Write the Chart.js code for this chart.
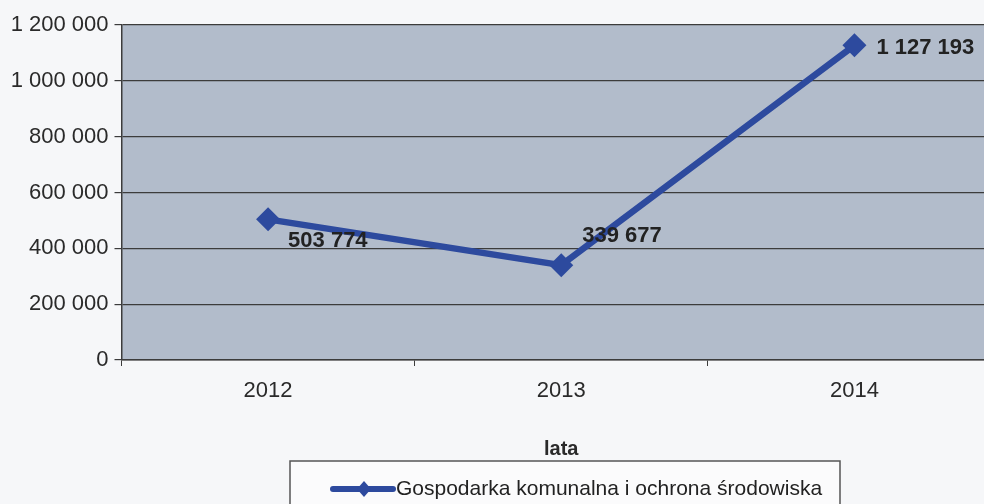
<!DOCTYPE html>
<html lang="pl">
<head>
  <meta charset="UTF-8">
  <title>Gospodarka komunalna i ochrona środowiska</title>
  <style>
    html, body { margin: 0; padding: 0; background: #f6f7f9; overflow: hidden; }
    #wrap { width: 1013px; height: 504px; }
  </style>
</head>
<body>
  <div id="wrap">
    <canvas id="myChart" width="1013" height="504"></canvas>
  </div>

  <script src="https://cdn.jsdelivr.net/npm/chart.js"></script>
  <script>
    // data
    const years = ['2012', '2013', '2014'];
    const values = [503774, 339677, 1127193];
    const seriesName = 'Gospodarka komunalna i ochrona środowiska';
    const axisTitle = 'lata';
    const yTicks = [0, 200000, 400000, 600000, 800000, 1000000, 1200000];

    const lineColor = '#2d4a9e';
    const gridColor = '#3c3c3c';
    const fontFamily = '"Liberation Sans", Arial, sans-serif';

    function fmt(v) {
      return String(v).replace(/\B(?=(\d{3})+(?!\d))/g, ' ');
    }

    // gray plot area
    const plotBg = {
      id: 'plotBg',
      beforeDraw(chart) {
        const { ctx, chartArea: a } = chart;
        ctx.save();
        ctx.fillStyle = '#b2bccb';
        ctx.fillRect(a.left, a.top, a.right - a.left, a.bottom - a.top);
        ctx.restore();
      }
    };

    // value labels next to the points
    const valueLabels = {
      id: 'valueLabels',
      afterDatasetsDraw(chart) {
        const { ctx } = chart;
        const offsets = [[20, 22], [21, -29], [22, 3]];
        const meta = chart.getDatasetMeta(0);
        ctx.save();
        ctx.font = 'bold 22px ' + fontFamily;
        ctx.fillStyle = '#222';
        ctx.textAlign = 'left';
        ctx.textBaseline = 'middle';
        meta.data.forEach((pt, i) => {
          ctx.fillText(fmt(values[i]), pt.x + offsets[i][0], pt.y + offsets[i][1]);
        });
        ctx.restore();
      }
    };

    // boxed legend below the axis title
    const boxLegend = {
      id: 'boxLegend',
      afterDraw(chart) {
        const { ctx } = chart;
        const ds = chart.data.datasets[0];
        const left = 290, right = 840, top = 461, bottom = 510;
        const cy = 489;
        ctx.save();
        ctx.fillStyle = '#fbfbfc';
        ctx.fillRect(left, top, right - left, bottom - top);
        ctx.strokeStyle = '#555';
        ctx.lineWidth = 1.5;
        ctx.strokeRect(left, top, right - left, bottom - top);
        // sample line with diamond
        ctx.strokeStyle = ds.borderColor;
        ctx.lineWidth = 6;
        ctx.lineCap = 'round';
        ctx.beginPath();
        ctx.moveTo(333, cy);
        ctx.lineTo(393, cy);
        ctx.stroke();
        ctx.fillStyle = ds.borderColor;
        ctx.beginPath();
        ctx.moveTo(364, cy - 8);
        ctx.lineTo(371, cy);
        ctx.lineTo(364, cy + 8);
        ctx.lineTo(357, cy);
        ctx.closePath();
        ctx.fill();
        ctx.fillStyle = '#222';
        ctx.font = '21px ' + fontFamily;
        ctx.textAlign = 'left';
        ctx.textBaseline = 'middle';
        ctx.fillText(ds.label, 396, cy);
        ctx.restore();
      }
    };

    const ctx = document.getElementById('myChart');
    const myChart = new Chart(ctx, {
      type: 'line',
      data: {
        labels: years,
        datasets: [{
          label: seriesName,
          data: values,
          borderColor: lineColor,
          backgroundColor: lineColor,
          borderWidth: 6.5,
          pointStyle: 'rectRot',
          pointRadius: 12,
          pointBorderWidth: 0,
          tension: 0,
          fill: false
        }]
      },
      options: {
        responsive: false,
        animation: false,
        layout: { padding: { top: 25, right: 4, left: 0, bottom: 0 } },
        plugins: {
          legend: { display: false },
          tooltip: { enabled: false }
        },
        scales: {
          x: {
            offset: true,
            grid: {
              offset: true,
              drawOnChartArea: false,
              drawTicks: true,
              tickLength: 6,
              color: gridColor
            },
            border: { display: true, color: gridColor, width: 1.5 },
            ticks: {
              color: '#2a2a2a',
              padding: 12,
              font: { family: fontFamily, size: 22 }
            },
            title: {
              display: true,
              text: axisTitle,
              color: '#2a2a2a',
              font: { family: fontFamily, size: 20, weight: 'bold' },
              padding: { top: 0, bottom: 43 }
            },
            afterFit(s) { s.height = 144; }
          },
          y: {
            min: 0,
            max: 1200000,
            afterBuildTicks(s) { s.ticks = yTicks.map(v => ({ value: v })); },
            grid: {
              color: gridColor,
              lineWidth: 1.2,
              tickLength: 7
            },
            border: { display: true, color: gridColor, width: 1.5 },
            ticks: {
              color: '#2a2a2a',
              padding: 6,
              font: { family: fontFamily, size: 22 },
              callback: (v) => fmt(v)
            },
            afterFit(s) { s.width = 121.5; }
          }
        }
      },
      plugins: [plotBg, valueLabels, boxLegend]
    });
  </script>
</body>
</html>
